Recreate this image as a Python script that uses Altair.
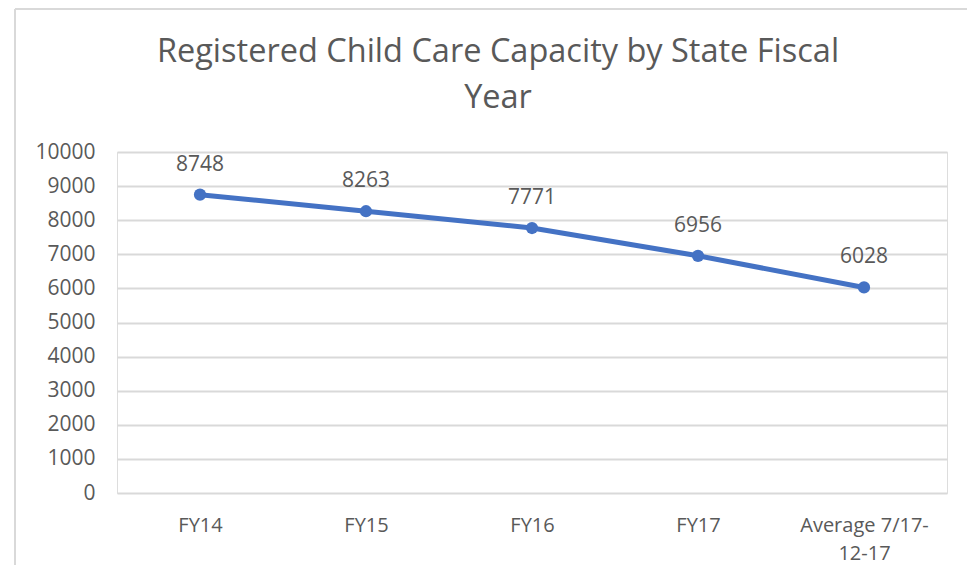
import altair as alt
import pandas as pd

categories = ["FY14", "FY15", "FY16", "FY17", "Average 7/17-12-17"]
values = [8748, 8263, 7771, 6956, 6028]
y_ticks = [0, 1000, 2000, 3000, 4000, 5000, 6000, 7000, 8000, 9000, 10000]

df = pd.DataFrame({"cat": categories, "val": values})

FONT = "Open Sans"
TXT = "#595959"
GRID = "#d9d9d9"
BLUE = "#4472C4"

W, H = 830, 341

x = alt.X(
    "cat:N",
    sort=categories,
    scale=alt.Scale(type="point", padding=0.5),
    axis=alt.Axis(
        title=None,
        labelAngle=0,
        labelFont=FONT,
        labelFontSize=20,
        labelColor=TXT,
        labelPadding=22,
        labelLineHeight=28,
        labelExpr="datum.label == 'Average 7/17-12-17' ? ['Average 7/17-', '12-17'] : datum.label",
        domain=False,
        ticks=False,
        grid=False,
    ),
)
y = alt.Y(
    "val:Q",
    scale=alt.Scale(domain=[0, 10000], nice=False),
    axis=alt.Axis(
        title=None,
        values=y_ticks,
        format="d",
        labelFont=FONT,
        labelFontSize=21,
        labelColor=TXT,
        labelPadding=22,
        domain=False,
        ticks=False,
        grid=True,
        gridColor=GRID,
        gridWidth=2,
    ),
)

base = alt.Chart(df)

line = base.mark_line(color=BLUE, strokeWidth=5).encode(x=x, y=y)
pts = base.mark_circle(color=BLUE, size=150, opacity=1).encode(x=x, y=y)
labels = base.mark_text(
    font=FONT, fontSize=21, color=TXT, dy=-24, baseline="alphabetic"
).encode(x=x, y=y, text="val:Q")

# outer chart-frame decoration (border of the Excel chart object)
frame_left = alt.Chart(df).mark_rule(color=GRID, strokeWidth=2, clip=False).encode(
    x=alt.value(-102), y=alt.value(-143), y2=alt.value(H + 100)
)
frame_top = alt.Chart(df).mark_rule(color=GRID, strokeWidth=2, clip=False).encode(
    x=alt.value(-102), x2=alt.value(W + 40), y=alt.value(-143)
)

chart = (
    alt.layer(frame_left, frame_top, line, pts, labels)
    .properties(
        width=W,
        height=H,
        autosize=alt.AutoSizeParams(type="none"),
        padding={"left": 109, "top": 144, "right": 20, "bottom": 72},
        title=alt.TitleParams(
            text=["Registered Child Care Capacity by State Fiscal", "Year"],
            font=FONT,
            fontSize=32.5,
            fontWeight="normal",
            color=TXT,
            anchor="middle",
            dx=-34,
            lineHeight=46,
            offset=-106,
        ),
    )
    .configure_view(stroke="transparent", strokeWidth=0)
    .configure_axis(domain=False, ticks=False)
    .configure_axisX(grid=False)
    .configure(background="white")
)

chart.save("out.html", embed_options={"renderer": "svg", "actions": False})
